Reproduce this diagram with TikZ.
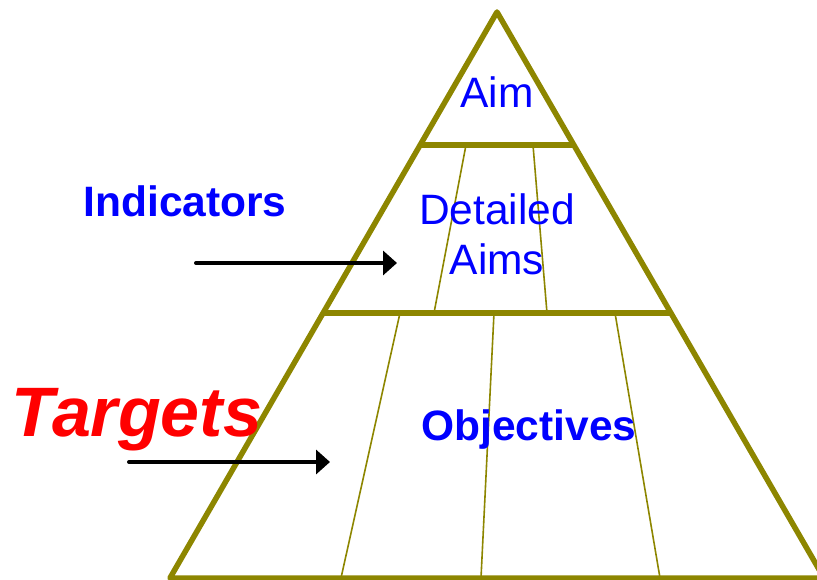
\documentclass[tikz,border=0pt]{standalone}
\usepackage{fontspec}
\setmainfont{Liberation Sans}
\usetikzlibrary{calc,arrows.meta}

\tikzset{
    edge/.style={draw=olive, line width=5.5pt, line join=round},
    split/.style={draw=olive, line width=1.6pt},
    label/.style={inner sep=0pt, anchor=base, text=blue, font=\fontsize{42.5}{50}\selectfont},
    pointer/.style={draw=black, line width=4pt, line cap=round, -{Triangle[length=14pt,width=24pt]}}
}

\begin{document}
\begin{tikzpicture}[x=1pt, y=-1pt]
    \useasboundingbox (0,0) rectangle (817,580);
    % outline of the pyramid
    \coordinate (apex) at (497,12);
    \coordinate (baseL) at (170,578);
    \coordinate (baseR) at (824,578);
    % levels
    \coordinate (l1L) at ($(apex)!0.235!(baseL)$);
    \coordinate (l1R) at ($(apex)!0.235!(baseR)$);
    \coordinate (l2L) at ($(apex)!0.532!(baseL)$);
    \coordinate (l2R) at ($(apex)!0.532!(baseR)$);

    % thin dividers, middle band
    \draw[split] (466,145) -- (434,313);
    \draw[split] (533,145) -- (547,313);
    % thin dividers, bottom band
    \draw[split] (400,313) -- (341,578);
    \draw[split] (494,313) -- (481,578);
    \draw[split] (615,313) -- (660,578);

    \draw[edge] (apex) -- (baseL) -- (baseR) -- cycle;
    \draw[edge] (l1L) -- (l1R);
    \draw[edge] (l2L) -- (l2R);

    \node(aim) [label] at (497,108) {Aim};
    \node(detailed) [label] at (497,225) {Detailed};
    \node(aims) [label] at (497,275) {Aims};
    \node(objectives) [label, font=\fontsize{42.5}{50}\selectfont\bfseries] at (529,440) {Objectives};
    \node(indicators) [label, font=\fontsize{42.5}{50}\selectfont\bfseries] at (185,217) {Indicators};
    \node(targets) [label, text=red, font=\fontsize{70}{80}\selectfont\bfseries\itshape] at (137,436) {Targets};

    % arrows into the pyramid
    \coordinate (indFrom) at (196,263);
    \coordinate (indTo) at (397,263);
    \coordinate (tarFrom) at (129,462);
    \coordinate (tarTo) at (330,462);
    \draw[pointer] (indFrom) -- (indTo);
    \draw[pointer] (tarFrom) -- (tarTo);
\end{tikzpicture}
\end{document}
